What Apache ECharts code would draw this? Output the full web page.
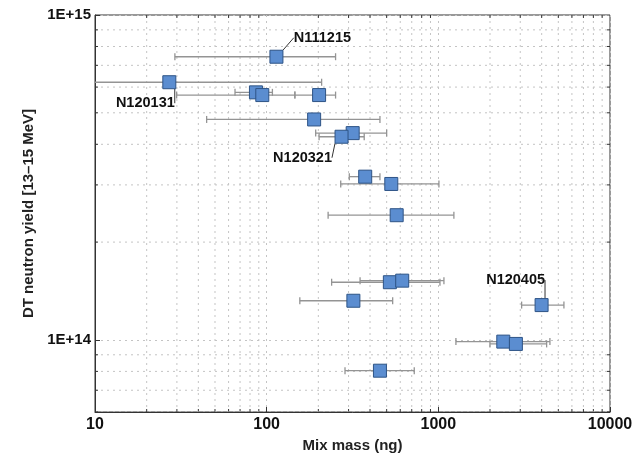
<!DOCTYPE html>
<html>
<head>
<meta charset="utf-8">
<script src="https://cdn.jsdelivr.net/npm/echarts@6/dist/echarts.min.js"></script>
<style>
  html, body { margin: 0; padding: 0; background: #fff; }
  #chart { width: 637px; height: 453px; }
</style>
</head>
<body>
<div id="chart"></div>
<script>
// Shot data: mix mass (ng), DT yield, mass error range
var shotNames = ['N111215', 'N120131', '', '', '', '', '', 'N120321', '', '', '', '', '', '', 'N120405', '', '', ''];
var mixMass   = [114, 27.1, 86.6, 94.3, 202, 189, 317, 273, 375, 532, 572, 522, 616, 320, 3995, 2390, 2830, 457];
var massLow   = [29.2, 9.5, 65.4, 29.9, 146, 44.7, 193, 202, 303, 270, 228, 239, 350, 156, 3056, 1266, 1998, 286];
var massHigh  = [252, 209, 108, 146, 252, 457, 500, 370, 457, 1008, 1232, 1022, 1078, 542, 5390, 4467, 4274, 724];
var dtYield   = [7.44e14, 6.21e14, 5.78e14, 5.67e14, 5.67e14, 4.77e14, 4.33e14, 4.22e14, 3.18e14, 3.02e14, 2.42e14, 1.505e14, 1.522e14, 1.32e14, 1.28e14, 9.88e13, 9.72e13, 8.04e13];

// label offsets (px) for the named shots
var labelShift = {
	'N111215': [46, -19],
	'N120131': [-24, 21],
	'N120321': [-39, 21],
	'N120405': [-26, -25]
};

var xMinor = [];
[10, 100, 1000].forEach(function (d) {
	for (var m = 2; m <= 9; m++) xMinor.push(d * m);
});
var yMinor = [6e13, 7e13, 8e13, 9e13, 2e14, 3e14, 4e14, 5e14, 6e14, 7e14, 8e14, 9e14];

var points = [];
var bars = [];
for (var i = 0; i < mixMass.length; i++) {
	points.push({ value: [mixMass[i], dtYield[i]], name: shotNames[i] });
	bars.push([mixMass[i], dtYield[i], massLow[i], massHigh[i]]);
}

var chart = echarts.init(document.getElementById('chart'));

var gridColor = '#c4c4c4';
var font = '"Liberation Sans", Arial, sans-serif';

var option = {
	animation: false,
	grid: {
		left: 95, right: 27, top: 15, bottom: 41,
		outerBoundsMode: 'none',
		show: true, borderColor: '#333', borderWidth: 1
	},
	xAxis: {
		type: 'log', logBase: 10, min: 10, max: 10000,
		name: 'Mix mass (ng)', nameLocation: 'middle', nameGap: 24,
		nameTextStyle: { fontFamily: font, fontWeight: 'bold', fontSize: 15, color: '#222' },
		axisLine: { lineStyle: { color: '#333' } },
		axisTick: { inside: true, length: 5, lineStyle: { color: '#333' } },
		axisLabel: {
			fontFamily: font, fontWeight: 'bold', fontSize: 16, color: '#111', margin: 5,
			formatter: function (v) { return String(Math.round(v)); }
		},
		splitLine: { show: true, lineStyle: { color: gridColor, type: [2, 4] } }
	},
	yAxis: {
		type: 'log', logBase: 10, min: 6e13, max: 1e15,
		name: 'DT neutron yield [13\u201315 MeV]', nameLocation: 'middle', nameGap: 50,
		nameTextStyle: { fontFamily: font, fontWeight: 'bold', fontSize: 15, color: '#222' },
		axisLine: { lineStyle: { color: '#333' } },
		axisTick: { inside: true, length: 5, lineStyle: { color: '#333' } },
		axisLabel: {
			fontFamily: font, fontWeight: 'bold', fontSize: 15, color: '#111', margin: 4,
			formatter: function (v) {
				var e = Math.log10(v);
				if (Math.abs(e - Math.round(e)) > 1e-6) return '';
				return '1E+' + Math.round(e);
			}
		},
		splitLine: { show: true, lineStyle: { color: gridColor, type: [2, 4] } }
	},
	series: [
		{
			// minor grid lines + ticks along x
			type: 'custom', silent: true, z: 0,
			data: xMinor.map(function (v) { return [v, 1e14]; }),
			renderItem: function (params, api) {
				var cs = params.coordSys;
				var x = api.coord([api.value(0), 1e14])[0];
				var st = { stroke: gridColor, lineWidth: 1, lineDash: [2, 4] };
				return { type: 'group', children: [
					{ type: 'line', shape: { x1: x, y1: cs.y, x2: x, y2: cs.y + cs.height }, style: st },
					{ type: 'line', shape: { x1: x, y1: cs.y + cs.height, x2: x, y2: cs.y + cs.height - 3 }, style: { stroke: '#333' } },
					{ type: 'line', shape: { x1: x, y1: cs.y, x2: x, y2: cs.y + 3 }, style: { stroke: '#333' } }
				] };
			}
		},
		{
			// minor grid lines + ticks along y
			type: 'custom', silent: true, z: 0,
			data: yMinor.map(function (v) { return [100, v]; }),
			renderItem: function (params, api) {
				var cs = params.coordSys;
				var y = api.coord([100, api.value(1)])[1];
				var st = { stroke: gridColor, lineWidth: 1, lineDash: [2, 4] };
				return { type: 'group', children: [
					{ type: 'line', shape: { x1: cs.x, y1: y, x2: cs.x + cs.width, y2: y }, style: st },
					{ type: 'line', shape: { x1: cs.x, y1: y, x2: cs.x + 3, y2: y }, style: { stroke: '#333' } },
					{ type: 'line', shape: { x1: cs.x + cs.width, y1: y, x2: cs.x + cs.width - 3, y2: y }, style: { stroke: '#333' } }
				] };
			}
		},
		{
			// horizontal error bars
			type: 'custom', silent: true, z: 2, clip: true,
			data: bars,
			encode: { x: 0, y: 1 },
			renderItem: function (params, api) {
				var y = api.value(1);
				var p1 = api.coord([api.value(2), y]);
				var p2 = api.coord([api.value(3), y]);
				var st = { stroke: '#949494', lineWidth: 1.3 };
				return { type: 'group', children: [
					{ type: 'line', shape: { x1: p1[0], y1: p1[1], x2: p2[0], y2: p2[1] }, style: st },
					{ type: 'line', shape: { x1: p1[0], y1: p1[1] - 3.5, x2: p1[0], y2: p1[1] + 3.5 }, style: st },
					{ type: 'line', shape: { x1: p2[0], y1: p2[1] - 3.5, x2: p2[0], y2: p2[1] + 3.5 }, style: st }
				] };
			}
		},
		{
			type: 'scatter', z: 5,
			symbol: 'rect', symbolSize: 13,
			itemStyle: { color: '#5b8dd0', borderColor: '#2e5486', borderWidth: 1, opacity: 1 },
			data: points,
			label: {
				show: true, position: 'inside',
				formatter: function (p) { return p.name; },
				fontFamily: font, fontWeight: 'bold', fontSize: 14.5, color: '#111'
			},
			labelLine: { show: true, lineStyle: { color: '#333', width: 1 } },
			labelLayout: function (p) {
				var s = labelShift[shotNames[p.dataIndex]];
				if (!s) return {};
				return { dx: s[0], dy: s[1] };
			}
		}
	]
};

chart.setOption(option);
</script>
</body>
</html>
